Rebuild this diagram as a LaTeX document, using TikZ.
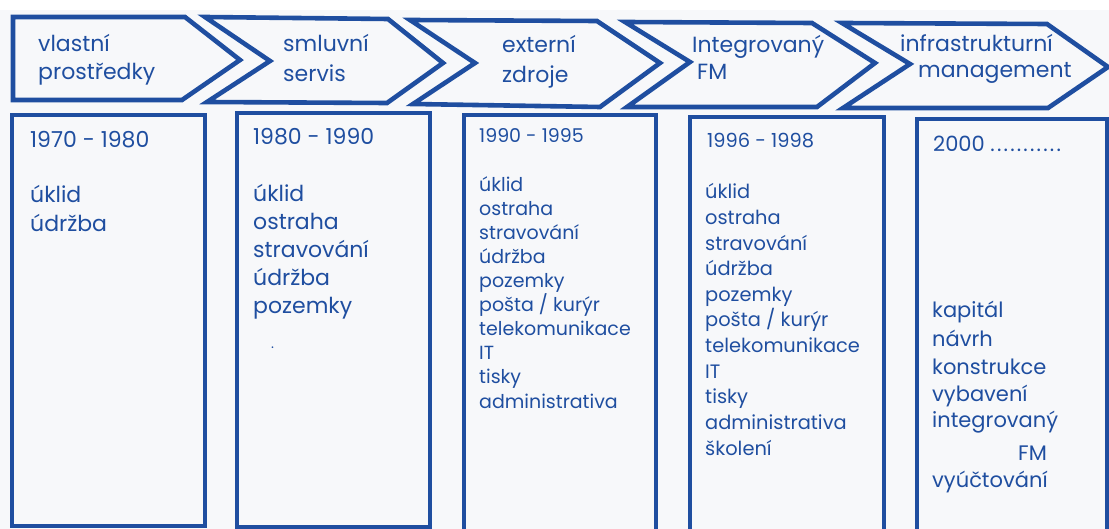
\documentclass[tikz,border=0pt]{standalone}
\usepackage{fontspec}
\setmainfont{Poppins}
\definecolor{ink}{RGB}{31,78,160}
\definecolor{paper}{RGB}{247,248,250}
\tikzset{
  stage/.style={draw=ink, line width=4.6pt, line join=miter},
  period/.style={draw=ink, line width=4.2pt},
  head/.style={text=ink, anchor=base west, inner sep=0pt, font=\fontsize{22}{26}\selectfont},
  itemA/.style={text=ink, anchor=base west, inner sep=0pt, font=\fontsize{22}{26}\selectfont},
  itemB/.style={text=ink, anchor=base west, inner sep=0pt, font=\fontsize{19}{22}\selectfont},
  itemC/.style={text=ink, anchor=base west, inner sep=0pt, font=\fontsize{19.4}{23}\selectfont},
  itemD/.style={text=ink, anchor=base west, inner sep=0pt, font=\fontsize{21}{25}\selectfont},
}
\newcommand{\spacedots}{.\kern2.2pt.\kern2.2pt.\kern2.2pt.\kern2.2pt.\kern2.2pt.\kern2.2pt.\kern2.2pt.\kern2.2pt.\kern2.2pt.\kern2.2pt.}
\begin{document}
\begin{tikzpicture}[x=1pt,y=-1pt]
\useasboundingbox (0,0) rectangle (1109,529);
\clip (0,0) rectangle (1109,529);
\fill[paper] (0,10) rectangle (1109,529);

% stage arrows along the top
\draw[stage] (13,17) -- (185,17) -- (240,60) -- (182,100) -- (13,100) -- cycle;
\draw[stage] (205,17) -- (388,19) -- (443,63) -- (387,103) -- (207,102) -- (270,61) -- cycle;
\draw[stage] (410,20) -- (597,21) -- (660,63) -- (600,107) -- (413,104) -- (475,63) -- cycle;
\draw[stage] (625,22) -- (812,23) -- (875,63) -- (817,107) -- (627,107) -- (690,62) -- cycle;
\draw[stage] (842,23) -- (1047,24) -- (1108,67) -- (1048,108) -- (843,108) -- (910,64) -- cycle;

\node[head] (h1a) at (38,52) {vlastní};
\node[head] (h1b) at (38,80) {prostředky};
\node[head] (h2a) at (283,52) {smluvní};
\node[head] (h2b) at (283,82) {servis};
\node[head] (h3a) at (502,53) {externí};
\node[head] (h3b) at (502,83) {zdroje};
\node[head] (h4a) at (692,53) {Integrovaný};
\node[head] (h4b) at (697,80) {FM};
\node[head] (h5a) at (900,52) {infrastrukturní};
\node[head] (h5b) at (918,78) {management};

% period columns
\draw[period] (12,115) rectangle (205,526);
\draw[period] (237,113) rectangle (430,527);
\draw[period] (464,115) rectangle (656,531);
\draw[period] (690,117) rectangle (884,531);
\draw[period] (917,119) rectangle (1107,531);

% 1970 - 1980
\node[itemA] (y1) at (30,148) {1970 - 1980};
\node[itemA] (a1) at (30,203) {úklid};
\node[itemA] (a2) at (30,232) {údržba};

% 1980 - 1990
\node[itemA] (y2) at (253,145) {1980 - 1990};
\foreach \t [count=\i] in {úklid,ostraha,stravování,údržba,pozemky}
  \node[itemA] (b\i) at (253,{202+27.8*(\i-1)}) {\t};
\node[itemA, font=\fontsize{14}{16}\selectfont] (bdot) at (271,349) {.};

% 1990 - 1995
\node[itemB] (y3) at (479,143) {1990 - 1995};
\foreach \t [count=\i] in {úklid,ostraha,stravování,údržba,pozemky,pošta / kurýr,telekomunikace,IT,tisky,administrativa}
  \node[itemB] (c\i) at (479,{192+24*(\i-1)}) {\t};

% 1996 - 1998
\node[itemC] (y4) at (707,148) {1996 - 1998};
\foreach \t [count=\i] in {úklid,ostraha,stravování,údržba,pozemky,pošta / kurýr,telekomunikace,IT,tisky,administrativa,školení}
  \node[itemC] (d\i) at (705,{199+25.6*(\i-1)}) {\t};

% 2000 onwards
\node[itemD] (y5) at (933,152) {2000 \spacedots};
\node[itemD] (e1) at (932,318) {kapitál};
\node[itemD] (e2) at (932,347) {návrh};
\node[itemD] (e3) at (932,375) {konstrukce};
\node[itemD] (e4) at (932,402) {vybavení};
\node[itemD] (e5) at (932,428) {integrovaný};
\node[itemD] (e6) at (1018,460) {FM};
\node[itemD] (e7) at (932,487) {vyúčtování};
\end{tikzpicture}
\end{document}
